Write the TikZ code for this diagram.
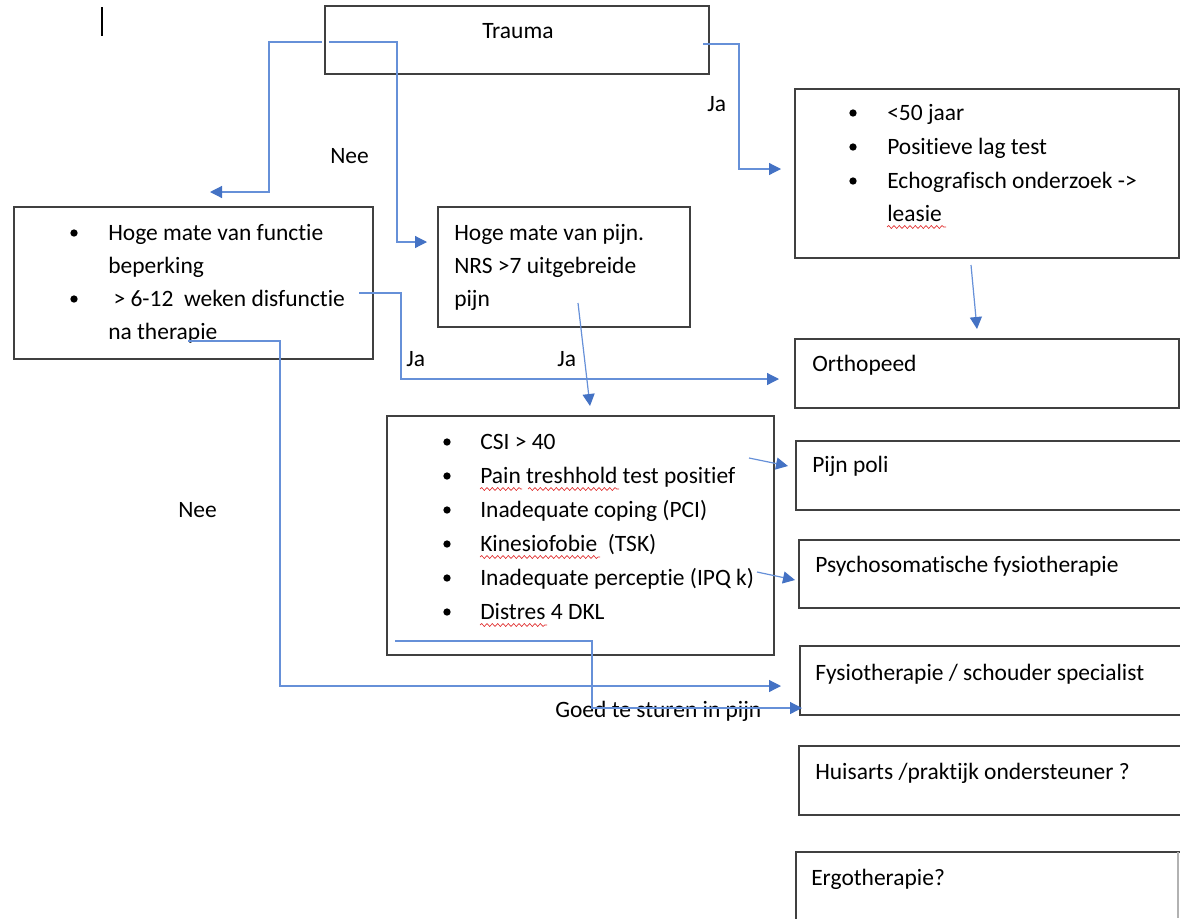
\documentclass[tikz,border=0pt]{standalone}
\usepackage{fontspec}
\setmainfont[Ligatures={NoCommon,NoRequired,NoContextual}]{Carlito}
\usetikzlibrary{arrows.meta,fit,decorations.pathmorphing}
\definecolor{boxgray}{HTML}{404040}
\definecolor{connblue}{HTML}{6690D8}
\definecolor{tipblue}{HTML}{4472C4}
\definecolor{spellred}{HTML}{E03030}
\begin{document}
\begin{tikzpicture}[x=0.75pt,y=-0.75pt,
  box/.style={draw=boxgray,line width=1pt,inner sep=0pt,rectangle},
  txt/.style={anchor=base west,inner sep=0pt,font=\fontsize{17.6pt}{20pt}\selectfont},
  conn/.style={draw=connblue,line width=0.9pt,-{Triangle[length=9pt,width=9pt,color=tipblue]}},
  dot/.style={circle,fill=black,inner sep=0pt,minimum size=5.5pt},
  wavy/.style={draw=spellred,line width=0.5pt,decorate,decoration={snake,amplitude=1.1pt,segment length=4pt}}
]
\useasboundingbox (0,0) rectangle (1180,918);
\clip (0,0) rectangle (1180,918);

% stray cursor mark
\draw[black,line width=0.8pt] (102,7) -- (102,36);

% boxes
\node[box,fit={(325,6)(709,74)}] (trauma) {};
\node[box,fit={(795,89)(1179,258)}] (crit) {};
\node[box,fit={(14,207)(373,359)}] (func) {};
\node[box,fit={(438,207)(690,327)}] (pain) {};
\node[box,fit={(387,416)(774,655)}] (csi) {};
\node[box,fit={(795,339)(1179,408)}] (ortho) {};
\node[box,fit={(796,441)(1195,510)}] (poli) {};
\node[box,fit={(799,540)(1195,608)}] (psycho) {};
\node[box,fit={(800,646)(1195,715)}] (fysio) {};
\node[box,fit={(799,746)(1195,815)}] (huis) {};
\node[box,fit={(796,852)(1195,935)}] (ergo) {};
\draw[gray!60,line width=0.8pt] (1178,852) -- (1178,918);

% texts
\node[txt] (ttrauma) at (482,38) {Trauma};

\node[dot] at (853,113) {};
\node[dot] at (853,147) {};
\node[dot] at (853,181) {};
\node[txt] (c1) at (887,120) {<50 jaar};
\node[txt] (c2) at (887,154) {Positieve lag test};
\node[txt] (c3) at (887,188) {Echografisch onderzoek ->};
\node[txt] (c4) at (887,221) {leasie};

\node[dot] at (74,233) {};
\node[dot] at (74,299) {};
\node[txt] (f1) at (108,240) {Hoge mate van functie};
\node[txt] (f2) at (108,273) {beperking};
\node[txt] (f3) at (108,306) {\ > 6-12\ \ weken disfunctie};
\node[txt] (f4) at (108,339) {na therapie};

\node[txt] (p1) at (454,240) {Hoge mate van pijn.};
\node[txt] (p2) at (454,273) {NRS >7 uitgebreide};
\node[txt] (p3) at (454,306) {pijn};

\node[dot] at (447,442) {};
\node[dot] at (447,476) {};
\node[dot] at (447,510) {};
\node[dot] at (447,544) {};
\node[dot] at (447,578) {};
\node[dot] at (447,612) {};
\node[txt] (s1) at (480,449) {CSI > 40};
\node[txt] (s2) at (480,483) {Pain treshhold test positief};
\node[txt] (s3) at (480,517) {Inadequate coping (PCI)};
\node[txt] (s4) at (480,551) {Kinesiofobie\ \ (TSK)};
\node[txt] (s5) at (480,585) {Inadequate perceptie (IPQ k)};
\node[txt] (s6) at (480,619) {Distres 4 DKL};

\node[txt] (tortho) at (812,371) {Orthopeed};
\node[txt] (tpoli) at (812,472) {Pijn poli};
\node[txt] (tpsycho) at (815,572) {Psychosomatische fysiotherapie};
\node[txt] (tfysio) at (815,680) {Fysiotherapie / schouder specialist};
\node[txt] (thuis) at (815,779) {Huisarts /praktijk ondersteuner ?};
\node[txt] (tergo) at (811,885) {Ergotherapie?};

% spelling underlines
\draw[wavy] (887,227) -- (946,227);
\draw[wavy] (480,489) -- (522,489);
\draw[wavy] (528,489) -- (619,489);
\draw[wavy] (480,557) -- (600,557);
\draw[wavy] (480,625) -- (547,625);

% labels
\node[txt] (lnee1) at (330,163) {Nee};
\node[txt] (lja1) at (707,111) {Ja};
\node[txt] (lja2) at (406,366) {Ja};
\node[txt] (lja3) at (557,366) {Ja};
\node[txt] (lnee2) at (178,517) {Nee};
\node[txt] (lgoed) at (555,717) {Goed te sturen in pijn};

% connector anchor points
\coordinate (a1s) at (322,42);  \coordinate (a1k) at (269,192); \coordinate (a1e) at (210,192);
\coordinate (a2s) at (329,42);  \coordinate (a2k) at (397,242); \coordinate (a2e) at (427,242);
\coordinate (a3s) at (703,44);  \coordinate (a3k) at (739,169); \coordinate (a3e) at (781,169);
\coordinate (a4s) at (971,265); \coordinate (a4e) at (977,329);
\coordinate (a5s) at (359,293); \coordinate (a5k) at (401,379); \coordinate (a5e) at (779,379);
\coordinate (a6s) at (578,303); \coordinate (a6e) at (590,406);
\coordinate (a7s) at (749,458); \coordinate (a7e) at (788,466);
\coordinate (a8s) at (757,572); \coordinate (a8e) at (795,580);
\coordinate (a9s) at (188,341); \coordinate (a9k) at (280,686); \coordinate (a9e) at (781,686);
\coordinate (a10s) at (395,641); \coordinate (a10k) at (592,708); \coordinate (a10e) at (802,708);

% connectors
\draw[conn] (a1s) -| (a1k) -- (a1e);
\draw[conn] (a2s) -| (a2k) -- (a2e);
\draw[conn] (a3s) -| (a3k) -- (a3e);
\draw[conn] (a4s) -- (a4e);
\draw[conn] (a5s) -| (a5k) -- (a5e);
\draw[conn] (a6s) -- (a6e);
\draw[conn] (a7s) -- (a7e);
\draw[conn] (a8s) -- (a8e);
\draw[conn] (a9s) -| (a9k) -- (a9e);
\draw[conn] (a10s) -| (a10k) -- (a10e);
\end{tikzpicture}
\end{document}
